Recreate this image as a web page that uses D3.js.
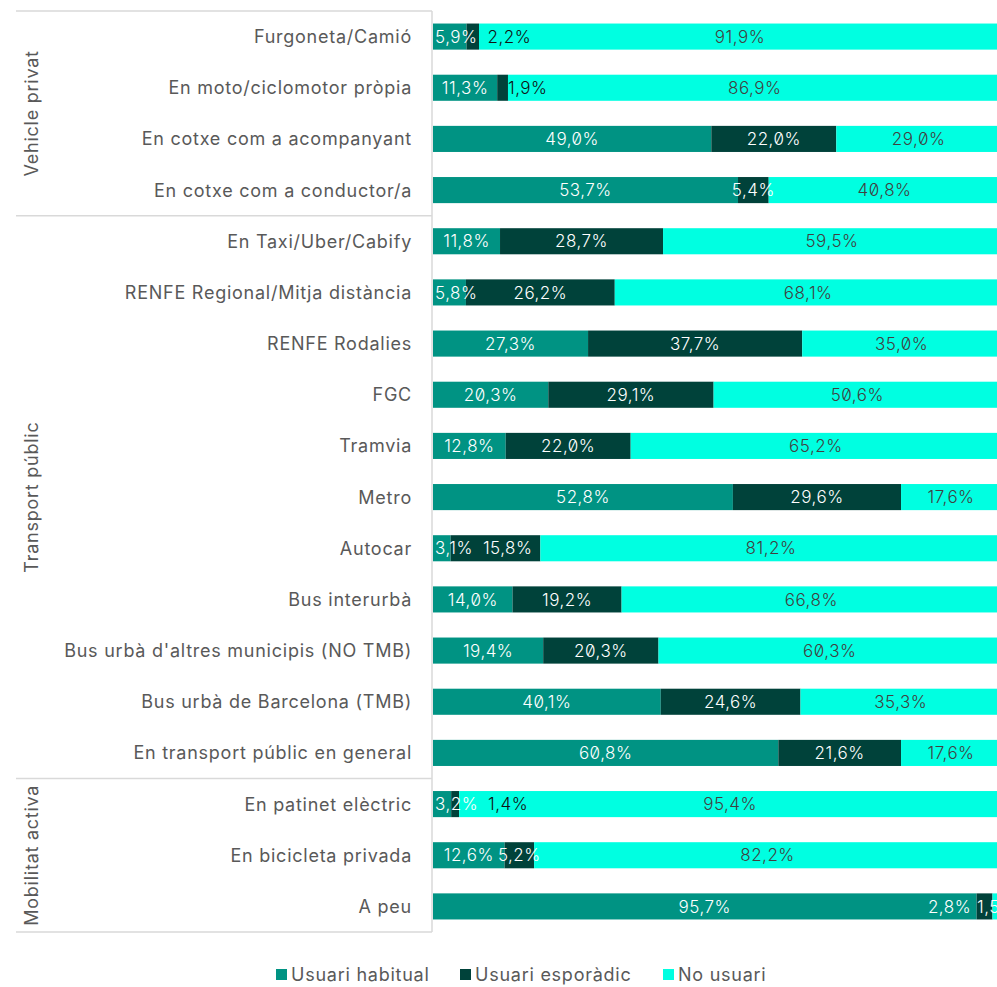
<!DOCTYPE html>
<html><head><meta charset="utf-8">
<script src="https://cdn.jsdelivr.net/npm/d3@7"></script>
<style>
body{margin:0;background:#fff;}
text{font-family:Inter,"Noto Sans",sans-serif;font-feature-settings:"zero" 1;}
</style></head>
<body><svg id="c" width="997" height="987"></svg>
<script>
const categories = ["Furgoneta/Camió","En moto/ciclomotor pròpia","En cotxe com a acompanyant","En cotxe com a conductor/a","En Taxi/Uber/Cabify","RENFE Regional/Mitja distància","RENFE Rodalies","FGC","Tramvia","Metro","Autocar","Bus interurbà","Bus urbà d'altres municipis (NO TMB)","Bus urbà de Barcelona (TMB)","En transport públic en general","En patinet elèctric","En bicicleta privada","A peu"];
const habitual   = [5.9,11.3,49.0,53.7,11.8,5.8,27.3,20.3,12.8,52.8,3.1,14.0,19.4,40.1,60.8,3.2,12.6,95.7];
const esporadic  = [2.2,1.9,22.0,5.4,28.7,26.2,37.7,29.1,22.0,29.6,15.8,19.2,20.3,24.6,21.6,1.4,5.2,2.8];
const noUsuari   = [91.9,86.9,29.0,40.8,59.5,68.1,35.0,50.6,65.2,17.6,81.2,66.8,60.3,35.3,17.6,95.4,82.2,1.5];
const seriesNames = ["Usuari habitual","Usuari esporàdic","No usuari"];
const groups = ["Vehicle privat","Transport públic","Mobilitat activa"];
const groupSizes = [4,11,3];
const colors = ["#009383","#00423A","#00FFE1"];

const svg = d3.select("#c");
const x0 = 433, x1 = 1001, yTop = 11, yBot = 932;
const x = d3.scaleLinear().domain([0,100]).range([x0,x1]);
const y = d3.scaleBand().domain(categories).range([yTop,yBot]).paddingInner(0.49).paddingOuter(0.245);
const band = (yBot-yTop)/categories.length;

const rows = categories.map((c,i)=>({cat:c, vals:[habitual[i],esporadic[i],noUsuari[i]]}));
const fmt = v => d3.format(".1f")(v).replace(".",",")+"%";

rows.forEach(r=>{
  let acc=0;
  r.segs = r.vals.map((v,k)=>{const s={k,v,a:acc,b:acc+v}; acc+=v; return s;});
});
const g = svg.append("g");
rows.forEach(r=>{
  g.selectAll(null).data(r.segs).join("rect")
    .attr("x",d=>x(d.a)).attr("width",d=>x(d.b)-x(d.a))
    .attr("y",y(r.cat)).attr("height",y.bandwidth())
    .attr("fill",d=>colors[d.k]);
});

// labels
const fs = 17, ls = 0.5, fw = 300;
const meas = svg.append("text").attr("font-size",fs).attr("font-weight",fw).attr("letter-spacing",ls).attr("x",-999).attr("y",-999);
function tw(s){meas.text(s);return meas.node().getComputedTextLength();}
rows.forEach(r=>{
  const labs = r.segs.map(s=>{const t=fmt(s.v);const w=tw(t);const c=(x(s.a)+x(s.b))/2;return {s,t,w,c};});
  labs[0].c = Math.max(labs[0].c, x0+2+labs[0].w/2);
  const m = labs[1];
  if (m.c - m.w/2 < labs[0].c + labs[0].w/2 + 2 && m.s.v < 20) {
    let left = labs[0].c + labs[0].w/2 + 10;
    if (m.s.v < 3) left = Math.max(left, x(m.s.b));
    m.c = left + m.w/2;
  } else if (m.c + m.w/2 > labs[2].c - labs[2].w/2 - 2 && labs[2].s.v < 5) {
    m.c = labs[2].c - labs[2].w/2 - 6 - m.w/2;
  }
  labs.forEach(l=>{
    let col;
    if (l.s.k===2) col = (l.s.v < 5) ? "#fff" : "#404040";
    else col = (l.c > x(r.segs[2].a)) ? "#111" : "#fff";
    svg.append("text").attr("x",l.c).attr("y",y(r.cat)+y.bandwidth()/2)
      .attr("dy","0.36em").attr("text-anchor","middle").attr("font-size",fs).attr("font-weight",fw).attr("letter-spacing",ls)
      .attr("fill",col).text(l.t);
  });
});
meas.remove();

const tfs = 18, tls = 0.75;
svg.selectAll(null).data(categories).join("text")
  .attr("x",412).attr("y",d=>y(d)+y.bandwidth()/2).attr("dy","0.36em")
  .attr("text-anchor","end").attr("font-size",tfs).attr("letter-spacing",tls).attr("fill","#595959").text(d=>d);

const lc="#d9d9d9";
svg.append("line").attr("x1",432).attr("x2",432).attr("y1",yTop).attr("y2",yBot).attr("stroke",lc).attr("stroke-width",1.5);
let start=0;
const bounds=[0];
groupSizes.forEach(n=>{start+=n;bounds.push(start);});
bounds.forEach(b=>{
  const yy=yTop+b*band;
  svg.append("line").attr("x1",16).attr("x2",432).attr("y1",yy).attr("y2",yy).attr("stroke",lc).attr("stroke-width",1.5);
});
groups.forEach((gname,i)=>{
  const cy = yTop+(bounds[i]+bounds[i+1])/2*band;
  svg.append("text").attr("transform",`translate(32,${cy}) rotate(-90)`)
    .attr("dy","0.36em").attr("text-anchor","middle").attr("font-size",tfs).attr("letter-spacing",tls).attr("fill","#595959").text(gname);
});

const legX=[276,460,663];
seriesNames.forEach((n,i)=>{
  svg.append("rect").attr("x",legX[i]).attr("y",969).attr("width",11).attr("height",11).attr("fill",colors[i]);
  svg.append("text").attr("x",legX[i]+15).attr("y",975).attr("dy","0.36em").attr("font-size",tfs).attr("letter-spacing",tls).attr("fill","#595959").text(n);
});
</script></body></html>
